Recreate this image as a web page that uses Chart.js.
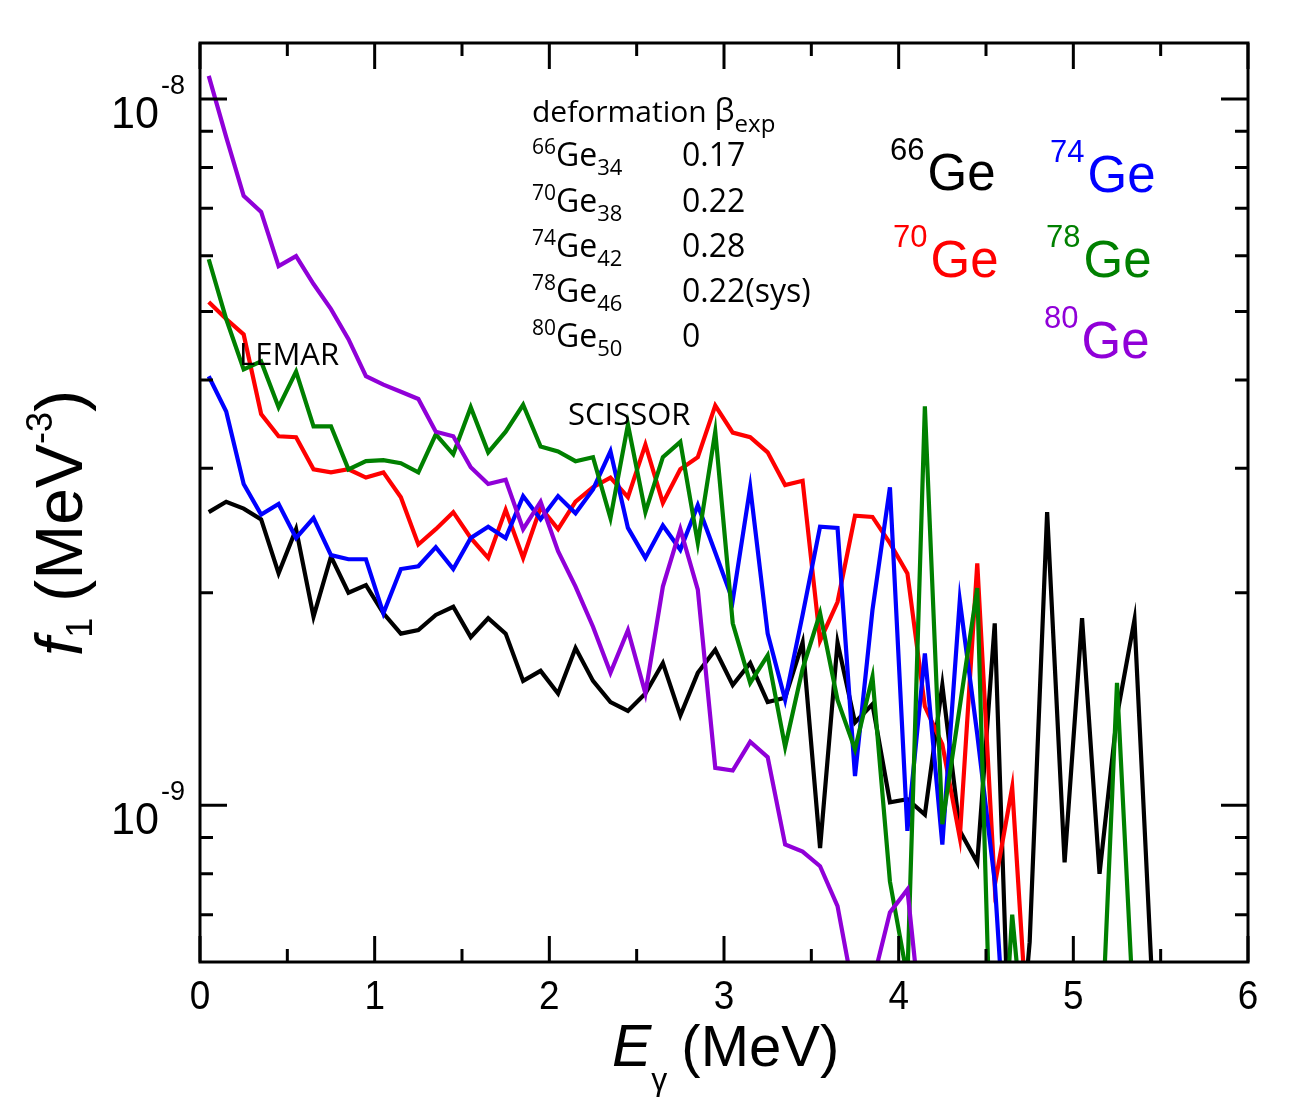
<!DOCTYPE html>
<html><head><meta charset="utf-8">
<script src="https://cdn.jsdelivr.net/npm/chart.js@4.4.1/dist/chart.umd.min.js"></script>
<style>html,body{margin:0;padding:0;background:#fff;}canvas{display:block;}</style>
</head><body>
<canvas id="c" width="1313" height="1107"></canvas>
<script>
// gamma energy bin centres (MeV)
const energyMeV = [0.05,0.15,0.25,0.35,0.45,0.55,0.65,0.75,0.85,0.95,1.05,1.15,1.25,1.35,1.45,1.55,1.65,1.75,1.85,1.95,
  2.05,2.15,2.25,2.35,2.45,2.55,2.65,2.75,2.85,2.95,3.05,3.15,3.25,3.35,3.45,3.55,3.65,3.75,3.85,3.95,
  4.05,4.15,4.25,4.35,4.45,4.55,4.65,4.75,4.85,4.95,5.05,5.15,5.25,5.35,5.45];
// f1 values in units of 1e-9 MeV^-3
const ge66 = [2.60,2.69,2.63,2.54,2.13,2.46,1.85,2.25,2.00,2.05,1.87,1.75,1.77,1.86,1.91,1.73,1.84,1.75,1.50,1.55,
  1.44,1.67,1.50,1.40,1.36,1.44,1.59,1.34,1.54,1.66,1.48,1.59,1.40,1.42,1.70,0.87,1.70,1.31,1.39,1.01,
  1.02,0.97,1.48,0.92,0.83,1.81,0.33,0.64,2.60,0.83,1.84,0.80,1.34,1.83,0.57];
const ge70 = [5.16,4.88,4.64,3.58,3.33,3.32,2.99,2.96,2.99,2.91,2.96,2.73,2.34,2.46,2.60,2.39,2.24,2.62,2.24,2.64,
  2.46,2.69,2.82,2.91,2.73,3.24,2.68,2.99,3.11,3.68,3.37,3.32,3.16,2.84,2.88,1.71,1.94,2.57,2.56,2.35,
  2.13,1.38,1.22,0.90,2.20,0.77,1.06,0.43];
const ge74 = [4.05,3.61,2.85,2.58,2.67,2.39,2.55,2.26,2.23,2.23,1.87,2.16,2.18,2.32,2.16,2.39,2.48,2.39,2.74,2.54,
  2.74,2.59,2.80,3.17,2.47,2.24,2.49,2.30,2.66,2.28,1.95,2.82,1.75,1.41,1.86,2.48,2.47,1.10,1.89,2.82,
  0.92,1.64,0.88,1.95,1.26,0.78,0.32];
const ge78 = [5.93,4.88,4.14,4.25,3.66,4.11,3.44,3.44,2.99,3.07,3.08,3.05,2.96,3.35,3.14,3.66,3.16,3.38,3.69,3.22,
  3.17,3.07,3.11,2.55,3.46,2.60,3.11,3.27,2.35,3.38,1.81,1.49,1.63,1.21,1.56,1.87,1.41,1.20,1.52,0.78,
  0.57,3.67,0.94,1.38,2.03,0.28,0.70,0.38,0.33,0.33,0.35,0.40,1.49,0.48];
const ge80 = [10.78,8.83,7.29,6.92,5.80,5.99,5.47,5.04,4.57,4.05,3.94,3.85,3.76,3.38,3.33,3.01,2.85,2.89,2.46,2.69,
  2.29,2.04,1.79,1.54,1.77,1.44,2.04,2.46,2.02,1.13,1.12,1.23,1.17,0.88,0.86,0.82,0.72,0.53,0.56,0.705,
  0.76,0.44];

const xTicks = [0,1,2,3,4,5,6];
const xMinorTicks = [0.5,1.5,2.5,3.5,4.5,5.5];
const yMajorTicks = [1e-9, 1e-8];
const yMajorExp = ['-9','-8'];
const yMinorTicks = [7e-10,8e-10,9e-10,2e-9,3e-9,4e-9,5e-9,6e-9,7e-9,8e-9,9e-9];

const seriesNames = ['66Ge','70Ge','74Ge','78Ge','80Ge'];
const seriesColors = ['#000000','#ff0000','#0000ff','#008000','#9000d8'];
const seriesValues = [ge66, ge70, ge74, ge78, ge80];

const tableRows = [
  {A:'66', N:'34', beta:'0.17'},
  {A:'70', N:'38', beta:'0.22'},
  {A:'74', N:'42', beta:'0.28'},
  {A:'78', N:'46', beta:'0.22(sys)'},
  {A:'80', N:'50', beta:'0'}
];

const datasets = seriesValues.map((vals, k) => ({
  label: seriesNames[k],
  data: vals.map((v, i) => ({x: energyMeV[i], y: v * 1e-9})),
  borderColor: seriesColors[k],
  backgroundColor: seriesColors[k],
  borderWidth: 4.2,
  pointRadius: 0,
  tension: 0,
  fill: false,
  borderJoinStyle: 'miter',
  order: [4,3,2,1,0][k]
}));

function runs(ctx, x, y, parts) {
  for (const p of parts) {
    ctx.font = p.f;
    ctx.fillText(p.t, x + (p.dx || 0), y + (p.dy || 0));
    x += ctx.measureText(p.t).width + (p.dx || 0) + (p.after || 0);
  }
  return x;
}
function narrowText(ctx, txt, x, y, sx) {
  ctx.save(); ctx.translate(x, y); ctx.scale(sx, 1); ctx.fillText(txt, 0, 0); ctx.restore();
}

const SANS = "'Liberation Sans', Arial, Helvetica, sans-serif";
const CAL = "'Open Sans', Lato, sans-serif";

const decor = {
  id: 'decor',
  afterDraw(chart) {
    const ctx = chart.ctx, a = chart.chartArea;
    const xs = chart.scales.x, ys = chart.scales.y;
    ctx.save();
    ctx.strokeStyle = '#000'; ctx.lineWidth = 3; ctx.lineCap = 'butt';
    ctx.strokeRect(a.left, a.top, a.right - a.left, a.bottom - a.top);
    ctx.beginPath();
    const tick = (x1,y1,x2,y2)=>{ctx.moveTo(x1,y1);ctx.lineTo(x2,y2);};
    xTicks.forEach(v => { const p = xs.getPixelForValue(v); tick(p,a.bottom,p,a.bottom-26); tick(p,a.top,p,a.top+26); });
    xMinorTicks.forEach(v => { const p = xs.getPixelForValue(v); tick(p,a.bottom,p,a.bottom-13); tick(p,a.top,p,a.top+13); });
    yMajorTicks.forEach(v => { const p = ys.getPixelForValue(v); tick(a.left,p,a.left+27,p); tick(a.right,p,a.right-27,p); });
    yMinorTicks.forEach(v => { const p = ys.getPixelForValue(v); tick(a.left,p,a.left+13,p); tick(a.right,p,a.right-13,p); });
    ctx.stroke();

    ctx.fillStyle = '#000'; ctx.textBaseline = 'alphabetic'; ctx.textAlign = 'left';
    // x tick labels
    ctx.font = '41px ' + SANS;
    xTicks.forEach(v => {
      const p = xs.getPixelForValue(v);
      const w = ctx.measureText(String(v)).width * 0.9;
      narrowText(ctx, String(v), p - w/2, 1009, 0.9);
    });
    // y tick labels
    yMajorTicks.forEach((v, i) => {
      const p = ys.getPixelForValue(v);
      ctx.font = '44px ' + SANS;
      const w10 = ctx.measureText('10').width * 0.98;
      narrowText(ctx, '10', 159 - w10, p + 29, 0.98);
      ctx.font = '27px ' + SANS;
      ctx.fillText(yMajorExp[i], 161, p - 5);
    });
    // x title
    runs(ctx, 612, 1066, [
      {t:'E', f:'italic 59px ' + SANS},
      {t:'γ', f:'32px ' + SANS, dy: 24, after: 14},
      {t:'(MeV)', f:'58px ' + SANS}
    ]);
    // y title
    ctx.save();
    ctx.translate(82, 656); ctx.rotate(-Math.PI/2);
    runs(ctx, 0, 0, [
      {t:'f', f:'italic 66px ' + SANS},
      {t:'1', f:'36px ' + SANS, dy: 10, after: 16},
      {t:'(MeV', f:'66px ' + SANS},
      {t:'-3', f:'36px ' + SANS, dy: -30},
      {t:')', f:'66px ' + SANS}
    ]);
    ctx.restore();

    // deformation table
    runs(ctx, 532, 122, [
      {t:'deformation ', f:'30px ' + CAL},
      {t:'β', f:'32px ' + CAL},
      {t:'exp', f:'24px ' + CAL, dy: 10}
    ]);
    const rowBase = [166, 212, 257, 302, 347];
    tableRows.forEach((r, i) => {
      runs(ctx, 532, rowBase[i], [
        {t:r.A, f:'21px ' + CAL, dy: -12},
        {t:'Ge', f:'32px ' + CAL},
        {t:r.N, f:'22px ' + CAL, dy: 9}
      ]);
      ctx.font = '32px ' + CAL;
      ctx.fillText(r.beta, 682, rowBase[i]);
    });
    ctx.font = '31px ' + CAL;
    ctx.fillText('LEMAR', 239, 365);
    ctx.fillText('SCISSOR', 568, 425);

    // isotope labels
    const lab = [
      {A:'66', x:890, y:190, c:seriesColors[0]},
      {A:'70', x:893, y:277, c:seriesColors[1]},
      {A:'74', x:1050, y:192, c:seriesColors[2]},
      {A:'78', x:1046, y:277, c:seriesColors[3]},
      {A:'80', x:1044, y:358, c:seriesColors[4]}
    ];
    lab.forEach(l => {
      ctx.fillStyle = l.c;
      runs(ctx, l.x, l.y, [
        {t:l.A, f:'31px ' + SANS, dy: -30, after: 3},
        {t:'Ge', f:'51px ' + SANS}
      ]);
    });
    ctx.restore();
  }
};

new Chart(document.getElementById('c'), {
  type: 'line',
  data: { datasets },
  options: {
    responsive: false,
    animation: false,
    devicePixelRatio: 1,
    layout: { padding: { left: 200, right: 65, top: 43, bottom: 145 } },
    plugins: { legend: { display: false }, tooltip: { enabled: false } },
    scales: {
      x: { type: 'linear', min: 0, max: 6, display: false },
      y: { type: 'logarithmic', min: 6e-10, max: 1.2e-8, display: false }
    }
  },
  plugins: [decor]
});
</script>
</body></html>
